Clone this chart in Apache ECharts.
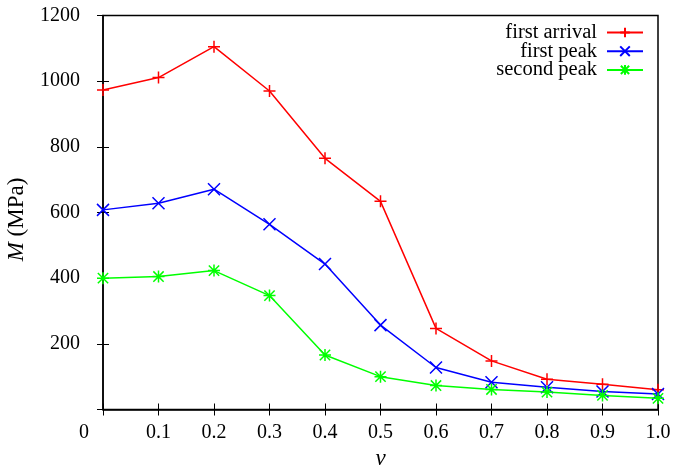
<!DOCTYPE html>
<html><head><meta charset="utf-8">
<script src="https://cdn.jsdelivr.net/npm/echarts@6/dist/echarts.min.js"></script>
<style>html,body{margin:0;padding:0;background:#fff}#c{width:674px;height:468px}</style>
</head><body><div id="c"></div>
<script>
const xValues = [0, 0.1, 0.2, 0.3, 0.4, 0.5, 0.6, 0.7, 0.8, 0.9, 1.0];
const firstArrival = [973, 1011, 1105, 970, 765, 634, 247, 148, 92, 77, 60];
const firstPeak = [608, 628, 671, 564, 443, 257, 128, 83, 68, 55, 47];
const secondPeak = [400, 405, 423, 347, 166, 100, 73, 61, 53, 43, 34];
const seriesNames = ['first arrival', 'first peak', 'second peak'];
const xTickLabels = ['0', '0.1', '0.2', '0.3', '0.4', '0.5', '0.6', '0.7', '0.8', '0.9', '1.0'];
const yTicks = [0, 200, 400, 600, 800, 1000, 1200];

const FONT = '"Liberation Serif", "DejaVu Serif", serif';
const plusPath = 'path://M0,5L10,5M5,0L5,10';
const crossPath = 'path://M0,0L10,10M0,10L10,0';
const starPath = 'path://M0,5L10,5M5,0L5,10M0.7,0.7L9.3,9.3M0.7,9.3L9.3,0.7';

function pairs(arr){ return arr.map((v,i)=>[xValues[i], v]); }
function mk(name, data, color, sym){
  return {
    name, type:'line', data: pairs(data), symbol: sym, symbolSize: 12,
    lineStyle:{color, width:1.5},
    itemStyle:{color, borderColor: color, borderWidth:1.5},
    emphasis:{disabled:true}, animation:false
  };
}
const chart = echarts.init(document.getElementById('c'));
chart.setOption({
  animation:false,
  grid:{left:103, right:16, top:15.5, bottom:58.5, containLabel:false, outerBoundsMode:'none',
        show:true, borderColor:'#000', borderWidth:1.5, backgroundColor:'transparent'},
  legend:{
    right: 25, top: 17, orient:'vertical', align:'right', itemWidth:36, itemHeight:12, itemGap:-2.3,
    textStyle:{fontFamily:FONT, fontSize:20.5, color:'#000', lineHeight:18.8, padding:[0,5,0,0]},
    data: seriesNames
  },
  xAxis:[{
    type:'value', min:0, max:1, interval:0.1, position:'bottom',
    axisLine:{show:true, lineStyle:{color:'#000', width:1.5}},
    axisTick:{show:true, inside:true, length:6, lineStyle:{color:'#000'}},
    splitLine:{show:false},
    axisLabel:{margin:13, fontFamily:FONT, fontSize:20, color:'#000',
      formatter:(v)=>{ const i=Math.round(v*10); const t=xTickLabels[i]; return i===0 ? '{z|'+t+'}' : t; },
      rich:{z:{fontFamily:FONT, fontSize:20, color:'#000', padding:[0,38,0,0]}}},
    name:'ν', nameLocation:'middle', nameGap:36,
    nameTextStyle:{fontFamily:FONT, fontSize:23, fontStyle:'italic', color:'#000'}
  },{
    type:'value', min:0, max:1, interval:0.1, position:'top',
    axisLine:{show:false}, axisTick:{show:true, inside:true, length:6, lineStyle:{color:'#000'}},
    axisLabel:{show:false}, splitLine:{show:false}
  }],
  yAxis:[{
    type:'value', min:yTicks[0], max:yTicks[yTicks.length-1], interval:200,
    axisLine:{show:true, lineStyle:{color:'#000', width:1.5}},
    axisTick:{show:true, inside:true, length:6, lineStyle:{color:'#000'}},
    splitLine:{show:false},
    axisLabel:{margin:23, fontFamily:FONT, fontSize:20, color:'#000', formatter:(v)=> v===0 ? '' : String(v)},
    name:'{i|M} (MPa)', nameLocation:'middle', nameGap:75, nameRotate:90,
    nameTextStyle:{fontFamily:FONT, fontSize:23, color:'#000', padding:[0,14,0,0],
      rich:{i:{fontFamily:FONT, fontSize:23, fontStyle:'italic', color:'#000'}}}
  },{
    type:'value', min:yTicks[0], max:yTicks[yTicks.length-1], interval:200, position:'right',
    axisLine:{show:false}, axisTick:{show:true, inside:true, length:6, lineStyle:{color:'#000'}},
    axisLabel:{show:false}, splitLine:{show:false}
  }],
  series:[
    mk(seriesNames[0], firstArrival, '#ff0000', plusPath),
    mk(seriesNames[1], firstPeak, '#0000ff', crossPath),
    mk(seriesNames[2], secondPeak, '#00ff00', starPath)
  ]
});
</script></body></html>
